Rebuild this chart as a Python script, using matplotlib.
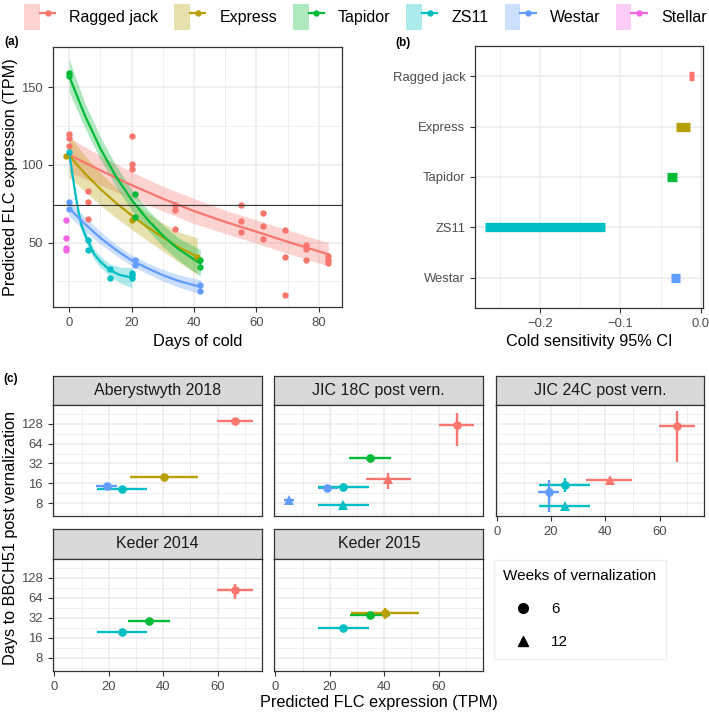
import matplotlib
matplotlib.use("Agg")
import matplotlib.pyplot as plt
import numpy as np
import pandas as pd
from matplotlib.lines import Line2D
from matplotlib.patches import Patch
from matplotlib.legend_handler import HandlerTuple
from matplotlib.ticker import FixedLocator, NullFormatter

plt.rcParams['font.family'] = ['Liberation Sans', 'DejaVu Sans']

# ---- data: panel (a) observed points ----
varieties = ['Ragged jack', 'Express', 'Tapidor', 'ZS11', 'Westar', 'Stellar']
colors = {'Ragged jack': '#F8766D', 'Express': '#B79F00', 'Tapidor': '#00BA38',
          'ZS11': '#00BFC4', 'Westar': '#619CFF', 'Stellar': '#F564E3'}

ragged_days = [0, 0, 0, 6, 6, 6, 20, 20, 20, 34, 34, 34, 55, 55, 55,
               62, 62, 62, 69, 69, 69, 76, 76, 76, 83, 83, 83]
ragged_tpm = [120, 117.5, 112, 83.5, 76, 65.5, 118.5, 100.5, 97.5, 74.5, 71, 59,
              74, 63.7, 56.5, 69, 61, 52, 58, 41, 16, 48.3, 46, 38.7, 41.2, 38.7, 37]
express_days = [-1, 20, 41]
express_tpm = [106, 64.5, 41]
tapidor_days = [0, 0, 21, 21, 42, 42]
tapidor_tpm = [159, 157, 81, 66.3, 38.5, 34]
zs11_days = [0, 6, 6, 13, 13, 20, 20, 20]
zs11_tpm = [108.5, 51.7, 45.5, 33, 27, 30.6, 28.8, 26.9]
westar_days = [0, 0, 21, 21, 42, 42]
westar_tpm = [76.3, 71.8, 38.5, 35.3, 22.6, 18.8]
stellar_days = [-1, -1, -1, -1]
stellar_tpm = [64.5, 53, 46.6, 45]

# ---- data: panel (a) fitted curves with 95% bands ----
ragged_fit_x = [0, 10, 20, 30, 40, 50, 60, 70, 83]
ragged_fit = [106.5, 96.5, 87, 78.3, 70.3, 63.3, 57, 50.5, 42.5]
ragged_lo = [95.5, 87, 78.5, 70.3, 62.3, 55.8, 49.5, 43, 35]
ragged_hi = [117.5, 106, 95.5, 86.3, 78.3, 70.8, 64.5, 58, 50]

express_fit_x = [0, 5, 10, 15, 20, 25, 30, 35, 41]
express_fit = [106, 94.5, 84.5, 75.5, 67.5, 60, 53.5, 47, 41]
express_lo = [92, 83, 74, 66, 58.5, 51.5, 44.5, 37.5, 29.5]
express_hi = [119, 106, 95, 85.5, 77, 69, 62.5, 57, 53]

tapidor_fit_x = [0, 5, 10, 15, 20, 25, 30, 35, 42]
tapidor_fit = [157, 132, 110.5, 92.5, 77.5, 65, 54.5, 45.8, 36.5]
tapidor_lo = [147, 124, 103.5, 86, 71, 58.5, 47.5, 38.5, 28.5]
tapidor_hi = [168, 140, 118, 99.5, 84, 71.5, 61.5, 53, 45.5]

zs11_fit_x = [0, 1, 2, 3, 4, 5, 6, 8, 10, 13, 16, 20]
zs11_fit = [107.5, 94, 81, 69.5, 60.3, 55.3, 50.8, 42.5, 37.7, 32.3, 29.3, 27.4]
zs11_lo = [104.5, 91, 78, 66.5, 57.3, 51.8, 47.3, 39, 34.2, 28.3, 24.3, 20.9]
zs11_hi = [110.5, 97, 84, 72.5, 63.3, 58.8, 54.3, 46, 41.2, 36.3, 34.3, 33.9]

westar_fit_x = [0, 5, 10, 15, 20, 25, 30, 35, 42]
westar_fit = [72, 62, 53, 45.3, 38.5, 33.5, 29, 25.3, 21.5]
westar_lo = [67, 57.5, 49, 41.8, 35, 30, 25.3, 21.3, 17]
westar_hi = [77, 66.5, 57, 48.8, 42, 37, 32.7, 29.3, 26]

threshold = 74

# ---- data: panel (b) cold sensitivity CI ----
sens_names = ['Ragged jack', 'Express', 'Tapidor', 'ZS11', 'Westar']
sens_lo = [-0.0140, -0.0311, -0.0416, -0.2686, -0.0370]
sens_hi = [-0.0080, -0.0133, -0.0295, -0.1192, -0.0258]

# ---- data: panel (c) days to BBCH51 vs predicted FLC ----
c_site = ['Aberystwyth 2018'] * 4 + ['JIC 18C post vern.'] * 7 + \
         ['JIC 24C post vern.'] * 5 + ['Keder 2014'] * 3 + ['Keder 2015'] * 3
c_variety = ['Ragged jack', 'Express', 'Westar', 'ZS11',
             'Ragged jack', 'Tapidor', 'Ragged jack', 'Westar', 'ZS11', 'Westar', 'ZS11',
             'Ragged jack', 'Ragged jack', 'ZS11', 'Westar', 'ZS11',
             'Ragged jack', 'Tapidor', 'ZS11',
             'Tapidor', 'Express', 'ZS11']
c_weeks = [6, 6, 6, 6,
           6, 6, 12, 6, 6, 12, 12,
           6, 12, 6, 6, 12,
           6, 6, 6,
           6, 6, 6]
c_flc = [66.4, 40.1, 19.2, 25.0,
         66.6, 34.8, 41.5, 19.1, 25.0, 5.0, 25.0,
         66.4, 41.5, 25.1, 19.2, 25.1,
         66.4, 34.9, 25.0,
         34.8, 40.3, 25.0]
c_flc_lo = [59.8, 27.8, 15.3, 15.8,
            60.1, 27.2, 33.2, 15.6, 15.6, 3.2, 15.6,
            59.9, 33.0, 15.6, 15.3, 15.6,
            59.8, 27.2, 15.8,
            27.4, 27.8, 15.6]
c_flc_hi = [73.0, 52.7, 22.9, 34.1,
            72.9, 42.3, 49.8, 23.1, 34.3, 6.9, 34.3,
            73.0, 49.8, 34.2, 23.0, 34.2,
            73.0, 42.5, 34.1,
            42.1, 52.7, 34.3]
c_days = [142, 19.7, 14.4, 13.0,
          123.5, 38.6, 18.4, 13.6, 14.2, 8.9, 7.4,
          118, 17.8, 14.9, 11.8, 7.2,
          83.5, 28.6, 19.3,
          35.7, 37.8, 22.5]
c_days_lo = [135, 19, 13, 12.3,
             58, 37, 13.3, 13, 13.2, 8.3, 6.3,
             33.6, 16.8, 11.6, 5.9, 6.8,
             61.5, 27.5, 18.5,
             34.5, 30.7, 21.5]
c_days_hi = [149, 20.5, 16, 13.7,
             187, 40, 22.9, 14.2, 15.3, 9.5, 8.4,
             203, 18.8, 19.3, 17.8, 7.6,
             105, 29.7, 20.1,
             37, 45, 23.5]

df_c = pd.DataFrame({'site': c_site, 'variety': c_variety, 'weeks': c_weeks,
                     'flc': c_flc, 'flc_lo': c_flc_lo, 'flc_hi': c_flc_hi,
                     'days': c_days, 'days_lo': c_days_lo, 'days_hi': c_days_hi})

# ---- figure ----
W, H = 709, 713
fig = plt.figure(figsize=(W / 100, H / 100), dpi=100)

GRID = '#EBEBEB'
DARK = '#333333'
TICKTXT = '#4D4D4D'


def add_ax(l, t, r, b):
    return fig.add_axes([l / W, 1 - b / H, (r - l) / W, (b - t) / H])


def fig_text(x, y, s, **kw):
    fig.text(x / W, 1 - y / H, s, **kw)


def bw(ax):
    for s in ax.spines.values():
        s.set_color(DARK)
        s.set_linewidth(0.9)
    ax.tick_params(which='major', length=3.5, width=0.8, color=DARK,
                   labelsize=9.4, labelcolor=TICKTXT, pad=4)
    ax.tick_params(which='minor', length=0)
    ax.grid(which='major', color=GRID, lw=1.1)
    ax.grid(which='minor', color=GRID, lw=0.55)
    ax.set_axisbelow(True)


# panel (a)
ax_a = add_ax(53, 47, 342, 307)
bw(ax_a)
curves = [('Ragged jack', ragged_fit_x, ragged_fit, ragged_lo, ragged_hi),
          ('Express', express_fit_x, express_fit, express_lo, express_hi),
          ('Tapidor', tapidor_fit_x, tapidor_fit, tapidor_lo, tapidor_hi),
          ('ZS11', zs11_fit_x, zs11_fit, zs11_lo, zs11_hi),
          ('Westar', westar_fit_x, westar_fit, westar_lo, westar_hi)]
points = [('Ragged jack', ragged_days, ragged_tpm), ('Express', express_days, express_tpm),
          ('Tapidor', tapidor_days, tapidor_tpm), ('ZS11', zs11_days, zs11_tpm),
          ('Westar', westar_days, westar_tpm), ('Stellar', stellar_days, stellar_tpm)]
for name, fx, fy, lo, hi in curves:
    ax_a.fill_between(fx, lo, hi, color=colors[name], alpha=0.32, lw=0, zorder=2)
    ax_a.plot(fx, fy, color=colors[name], lw=1.6, zorder=3)
for name, dx, dy in points:
    ax_a.plot(dx, dy, 'o', color=colors[name], ms=4.6, mew=0, zorder=4)
ax_a.axhline(threshold, color='#3A3A3A', lw=0.8, zorder=5)
ax_a.set_xlim(-5.2, 87.4)
ax_a.set_ylim(8.5, 176)
ax_a.set_xticks([0, 20, 40, 60, 80])
ax_a.xaxis.set_minor_locator(FixedLocator([10, 30, 50, 70]))
ax_a.set_yticks([50, 100, 150])
ax_a.yaxis.set_minor_locator(FixedLocator([25, 75, 125]))
fig_text(197.5, 342, 'Days of cold', ha='center', va='center', fontsize=11.7)
fig_text(11, 177, 'Predicted FLC expression (TPM)', ha='center', va='center',
         fontsize=11.7, rotation=90)

# panel (b)
ax_b = add_ax(475, 46, 703.3, 308)
bw(ax_b)
ax_b.tick_params(which='major', pad=3.5)
ypos = np.arange(len(sens_names))[::-1]
ax_b.hlines(ypos, sens_lo, sens_hi, colors=[colors[n] for n in sens_names],
            lw=6.7, capstyle='butt', zorder=3)
ax_b.set_xlim(-0.2813, 0.0032)
ax_b.set_ylim(-0.6, 4.6)
ax_b.set_yticks(ypos)
ax_b.set_yticklabels(sens_names)
ax_b.set_xticks([-0.2, -0.1, 0.0])
ax_b.set_xticklabels(['\u22120.2', '\u22120.1', '0.0'])
ax_b.xaxis.set_minor_locator(FixedLocator([-0.25, -0.15, -0.05]))
fig_text(589, 342, 'Cold sensitivity 95% CI', ha='center', va='center', fontsize=11.7)

# panel (c)
facets = [('Aberystwyth 2018', 53.3, 262.3, 0, True, False),
          ('JIC 18C post vern.', 274.3, 483.3, 0, False, False),
          ('JIC 24C post vern.', 495.7, 704.3, 0, False, True),
          ('Keder 2014', 53.3, 262.3, 1, True, True),
          ('Keder 2015', 274.3, 483.3, 1, False, True)]
rows = [(375.5, 405, 516), (529, 559, 670.7)]
shapes = {6: 'o', 12: '^'}
for site, l, r, row, show_y, show_x in facets:
    st, pt, pb = rows[row]
    sax = add_ax(l, st, r, pt)
    sax.set_facecolor('#D9D9D9')
    sax.set_xticks([])
    sax.set_yticks([])
    for s in sax.spines.values():
        s.set_color(DARK)
        s.set_linewidth(0.9)
    sax.text(0.5, 0.5, site, ha='center', va='center', fontsize=11.5,
             color='#1A1A1A', transform=sax.transAxes)

    ax = add_ax(l, pt, r, pb)
    bw(ax)
    ax.set_yscale('log', base=2)
    sub = df_c[df_c['site'] == site]
    for _, d in sub.iterrows():
        ax.errorbar(d['flc'], d['days'],
                    xerr=[[d['flc'] - d['flc_lo']], [d['flc_hi'] - d['flc']]],
                    yerr=[[d['days'] - d['days_lo']], [d['days_hi'] - d['days']]],
                    fmt=shapes[d['weeks']], color=colors[d['variety']],
                    ms=6.2 if d['weeks'] == 6 else 6.8, mew=0,
                    elinewidth=1.7, capsize=0, zorder=3)
    ax.set_xlim(-0.4, 76.4)
    ax.set_ylim(5.1, 247)
    ax.set_xticks([0, 20, 40, 60])
    ax.xaxis.set_minor_locator(FixedLocator([10, 30, 50, 70]))
    ax.set_yticks([8, 16, 32, 64, 128])
    ax.set_yticklabels(['8', '16', '32', '64', '128'])
    ax.yaxis.set_minor_locator(FixedLocator(2 ** np.arange(2.5, 8, 1.0)))
    ax.yaxis.set_minor_formatter(NullFormatter())
    if not show_y:
        ax.tick_params(axis='y', which='major', length=0, labelleft=False)
    if not show_x:
        ax.tick_params(axis='x', which='major', length=0, labelbottom=False)

fig_text(378.7, 703, 'Predicted FLC expression (TPM)', ha='center', va='center', fontsize=11.7)
fig_text(10.5, 538, 'Days to BBCH51 post vernalization', ha='center', va='center',
         fontsize=11.7, rotation=90)

# panel tags
fig_text(4, 42, '(a)', ha='left', va='center', fontsize=8.5, fontweight='bold')
fig_text(395, 43, '(b)', ha='left', va='center', fontsize=8.5, fontweight='bold')
fig_text(3, 379, '(c)', ha='left', va='center', fontsize=8.5, fontweight='bold')

# top colour legend
handles = [(Patch(facecolor=colors[v], alpha=0.32, edgecolor='none'),
            Line2D([], [], color=colors[v], lw=1.6, marker='o', ms=4.6, mew=0))
           for v in varieties]
fig.legend(handles, varieties, handler_map={tuple: HandlerTuple(ndivide=None)},
           ncol=6, loc='center', bbox_to_anchor=(365.5 / W, 1 - 17 / H),
           frameon=False, fontsize=11.5, handlelength=1.94, handleheight=2.05,
           handletextpad=0.875, columnspacing=1.0, borderpad=0, borderaxespad=0)

# shape legend
shape_handles = [Line2D([], [], ls='none', marker='o', color='black', ms=7),
                 Line2D([], [], ls='none', marker='^', color='black', ms=7.5)]
fig.legend(shape_handles, ['6', '12'], title='Weeks of vernalization',
           loc='upper left', bbox_to_anchor=(494.3 / W, 1 - 560 / H),
           frameon=True, fancybox=False, edgecolor='#EBEBEB', fontsize=11,
           title_fontsize=11, alignment='left', handlelength=2.5,
           handletextpad=0.6, labelspacing=1.25, borderpad=0.6, borderaxespad=0)

fig.savefig('out.png', dpi=100)
